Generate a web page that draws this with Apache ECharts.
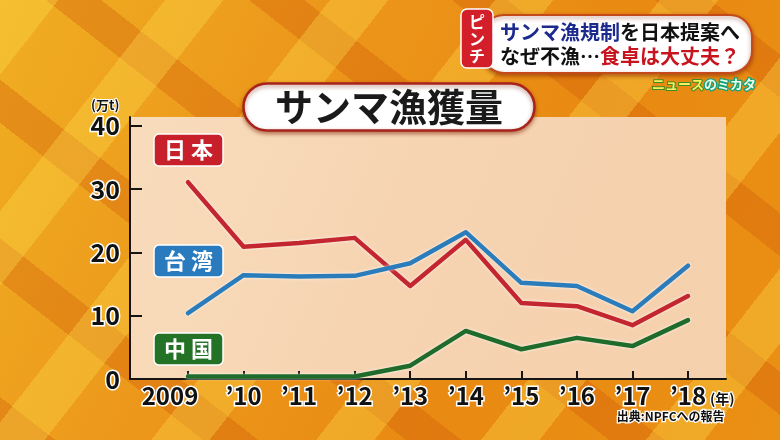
<!DOCTYPE html>
<html>
<head>
<meta charset="utf-8">
<script src="https://cdn.jsdelivr.net/npm/echarts@6/dist/echarts.min.js"></script>
<style>
  html, body { margin: 0; padding: 0; }
  #chart {
    width: 780px; height: 440px;
    background:
      repeating-linear-gradient(128deg, rgba(255,226,80,0.32) 0 46px, rgba(0,0,0,0) 46px 130px),
      repeating-linear-gradient(38deg, rgba(205,85,8,0.32) 0 34px, rgba(0,0,0,0) 34px 125px),
      linear-gradient(115deg, #f0ae22 0%, #ec961a 35%, #e98a12 65%, #ea9014 100%);
  }
</style>
</head>
<body>
<div id="chart"></div>
<script>
const years = [2009, 2010, 2011, 2012, 2013, 2014, 2015, 2016, 2017, 2018];
const xLabels = ['2009', '’10', '’11', '’12', '’13', '’14', '’15', '’16', '’17', '’18'];
const yTicks = [0, 10, 20, 30, 40];
const japan  = [31.1, 20.9, 21.5, 22.3, 14.7, 22.0, 12.0, 11.5, 8.5, 13.1];
const taiwan = [10.4, 16.4, 16.2, 16.3, 18.3, 23.2, 15.2, 14.7, 10.7, 17.9];
const china  = [0.4, 0.4, 0.4, 0.4, 2.1, 7.6, 4.7, 6.5, 5.2, 9.3];

const pairs = arr => years.map((y, i) => [y, arr[i]]);
const JP = 'Noto Sans CJK JP';

const chart = echarts.init(document.getElementById('chart'), null, { renderer: 'canvas' });

const tagBox = (text, color, top) => ({
  text: text,
  left: 154, top: top,
  padding: [3, 10, 3, 10],
  backgroundColor: color,
  borderColor: '#ffffff',
  borderWidth: 1.5,
  borderRadius: 5,
  textStyle: { color: '#ffffff', fontSize: 22, fontWeight: 'bold', fontFamily: JP, lineHeight: 26 }
});

const xLabelStyle = { color: '#111111', fontSize: 24, fontWeight: 'bold', fontFamily: JP, textBorderColor: '#ffffff', textBorderWidth: 3 };

chart.setOption({
  backgroundColor: 'transparent',
  animation: false,
  title: [
    {
      text: 'サンマ漁獲量',
      left: 243, top: 83,
      padding: [4, 32, 4, 32],
      backgroundColor: '#ffffff',
      borderColor: '#a8231c',
      borderWidth: 2.5,
      borderRadius: 24,
      shadowColor: 'rgba(120,30,0,0.5)',
      shadowBlur: 4,
      shadowOffsetY: 2,
      textStyle: { color: '#1a1a1a', fontSize: 38, fontWeight: 'bold', fontFamily: JP, lineHeight: 40 }
    },
    tagBox('日 本', '#c7202a', 134),
    tagBox('台 湾', '#2a7bbd', 245),
    tagBox('中 国', '#237226', 333),
    {
      text: '{b|サンマ漁規制}{k|を日本提案へ}\n{k|なぜ不漁…}{r|食卓は大丈夫？}',
      left: 482, top: 15,
      padding: [5, 12, 5, 18],
      backgroundColor: '#ffffff',
      borderColor: '#c44a1c',
      borderWidth: 2,
      borderRadius: 22,
      shadowColor: 'rgba(120,30,0,0.5)',
      shadowBlur: 4,
      shadowOffsetY: 2,
      textStyle: {
        fontFamily: JP, fontWeight: 'bold', fontSize: 20, lineHeight: 24,
        rich: {
          b: { color: '#1c2a8e', fontSize: 20, fontWeight: 'bold', fontFamily: JP, lineHeight: 24 },
          k: { color: '#111111', fontSize: 20, fontWeight: 'bold', fontFamily: JP, lineHeight: 24 },
          r: { color: '#c8141e', fontSize: 20, fontWeight: 'bold', fontFamily: JP, lineHeight: 24 }
        }
      }
    },
    {
      text: 'ピ\nン\nチ',
      left: 461, top: 9,
      padding: [4, 8, 4, 8],
      backgroundColor: '#d21f2a',
      borderColor: '#ffffff',
      borderWidth: 1.5,
      borderRadius: 6,
      textStyle: { color: '#ffffff', fontSize: 16, fontWeight: 'bold', fontFamily: JP, lineHeight: 17 }
    },
    {
      text: '{y|ニュース}{g|のミカタ}',
      left: 647, top: 73,
      textStyle: {
        rich: {
          y: { color: '#f6f060', fontSize: 13, fontWeight: 'bold', fontFamily: JP, textBorderColor: '#3d8c22', textBorderWidth: 2 },
          g: { color: '#eaffe8', fontSize: 13, fontWeight: 'bold', fontFamily: JP, textBorderColor: '#15a07a', textBorderWidth: 2.5 }
        }
      }
    },
    {
      text: '(万t)',
      left: 86, top: 94,
      textStyle: { color: '#111111', fontSize: 13, fontWeight: 'bold', fontFamily: JP, textBorderColor: '#ffffff', textBorderWidth: 2 }
    },
    {
      text: '(年)',
      left: 705, top: 387,
      textStyle: { color: '#111111', fontSize: 14, fontWeight: 'bold', fontFamily: JP, textBorderColor: '#ffffff', textBorderWidth: 2.5 }
    },
    {
      text: '出典:NPFCへの報告',
      right: 48, top: 405,
      textStyle: { color: '#111111', fontSize: 12, fontWeight: 'bold', fontFamily: JP, textBorderColor: '#ffffff', textBorderWidth: 2.5 }
    }
  ],
  grid: {
    left: 130, right: 54, top: 117, bottom: 61,
    show: true,
    borderWidth: 0,
    backgroundColor: new echarts.graphic.LinearGradient(0, 0, 1, 1, [
      { offset: 0, color: '#f8dcbc' },
      { offset: 0.5, color: '#f6d3b1' },
      { offset: 1, color: '#f5d0ad' }
    ])
  },
  xAxis: {
    type: 'value',
    min: 2007.956,
    max: 2018.684,
    axisLine: { show: true, lineStyle: { color: '#151515', width: 2 } },
    axisTick: { show: true, inside: true, length: 8, customValues: years, lineStyle: { color: '#151515', width: 2 } },
    splitLine: { show: false },
    axisLabel: {
      customValues: years,
      margin: 5,
      formatter: v => {
        const i = years.indexOf(Math.round(v));
        if (i < 0) return '';
        return i === 0 ? '{f|' + xLabels[i] + '}' : '{n|' + xLabels[i] + '}';
      },
      rich: {
        f: Object.assign({ padding: [0, 36, 0, 0] }, xLabelStyle),
        n: Object.assign({}, xLabelStyle)
      }
    }
  },
  yAxis: {
    type: 'value',
    min: 0,
    max: 41.4,
    axisLine: { show: true, lineStyle: { color: '#151515', width: 2 } },
    axisTick: { show: true, inside: true, length: 12, customValues: yTicks, lineStyle: { color: '#151515', width: 2 } },
    splitLine: { show: false },
    axisLabel: {
      customValues: yTicks,
      margin: 10,
      color: '#111111', fontSize: 25, fontWeight: 'bold', fontFamily: JP,
      textBorderColor: '#ffffff', textBorderWidth: 3
    }
  },
  series: [
    { name: '中国', type: 'line', data: pairs(china), showSymbol: false, symbol: 'none',
      lineStyle: { color: '#1e6b2b', width: 4.5, cap: 'round', join: 'round', shadowColor: 'rgba(255,255,255,0.9)', shadowBlur: 3 } },
    { name: '日本', type: 'line', data: pairs(japan), showSymbol: false, symbol: 'none',
      lineStyle: { color: '#c4262f', width: 4.5, cap: 'round', join: 'round', shadowColor: 'rgba(255,255,255,0.9)', shadowBlur: 3 } },
    { name: '台湾', type: 'line', data: pairs(taiwan), showSymbol: false, symbol: 'none',
      lineStyle: { color: '#2a7cba', width: 4.5, cap: 'round', join: 'round', shadowColor: 'rgba(255,255,255,0.9)', shadowBlur: 3 } }
  ]
});
</script>
</body>
</html>
